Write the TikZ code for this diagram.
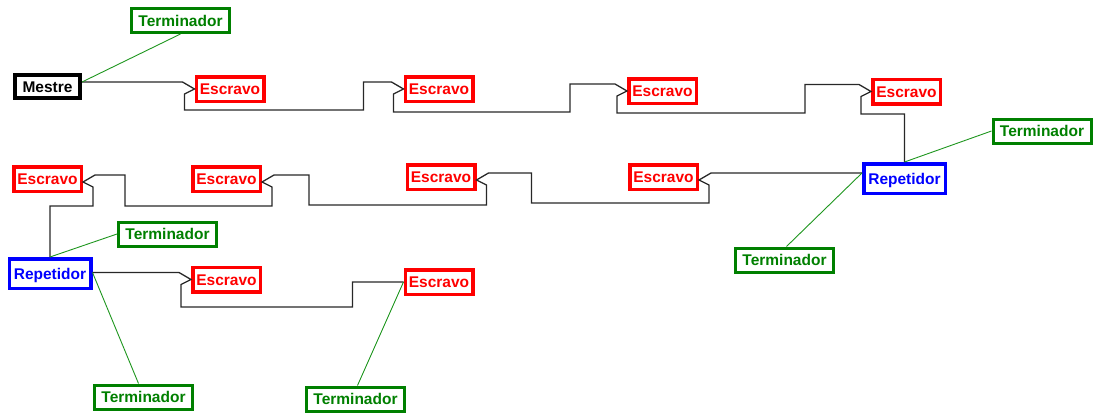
\documentclass[tikz,border=0pt]{standalone}
\usepackage{fontspec}
\setmainfont{Liberation Sans}
\usetikzlibrary{calc}

\definecolor{slavered}{RGB}{255,0,0}
\definecolor{termgreen}{RGB}{0,128,0}
\definecolor{repblue}{RGB}{0,0,255}
\definecolor{busgray}{RGB}{40,40,40}
\definecolor{stubgreen}{RGB}{30,150,30}

\tikzset{
  box/.style={draw, fill=white, inner sep=0pt, text height=11pt, text depth=0pt,
    font=\fontsize{15.5}{16}\selectfont\bfseries},
  master/.style={box, line width=4pt, draw=black, text=black,
    minimum width=65pt, minimum height=23pt},
  slave/.style={box, line width=3.5pt, draw=slavered, text=slavered,
    minimum width=67.5pt, minimum height=24.5pt},
  repeater/.style={box, line width=3.5pt, draw=repblue, text=repblue,
    minimum width=81.5pt, minimum height=29.5pt},
  terminator/.style={box, line width=3pt, draw=termgreen, text=termgreen,
    minimum width=98pt, minimum height=24pt},
  bus/.style={draw=busgray, line width=1.3pt, line join=miter},
  stub/.style={draw=stubgreen, line width=0.9pt},
}

\begin{document}
\begin{tikzpicture}[x=1pt, y=-1pt]
\useasboundingbox (0,0) rectangle (1093,415);

% ---- stations ----
\node[terminator] (T1) at (180.5,20.5) {Terminador};
\node[master]     (M)  at (47.5,86.5)  {Mestre};
\node[slave]      (E1) at (230,89)     {Escravo};
\node[slave]      (E2) at (439,89)     {Escravo};
\node[slave]      (E3) at (662.5,91)   {Escravo};
\node[slave]      (E4) at (906.5,91.5) {Escravo};
\node[repeater]   (R1) at (904.5,178.5){Repetidor};
\node[terminator] (T2) at (1042,131)   {Terminador};
\node[terminator] (T3) at (784.5,260)  {Terminador};
\node[slave]      (E5) at (663.5,177)  {Escravo};
\node[slave]      (E6) at (441,177)    {Escravo};
\node[slave]      (E7) at (226.5,179)  {Escravo};
\node[slave]      (E8) at (47.5,179)   {Escravo};
\node[terminator] (T4) at (167.5,234)  {Terminador};
\node[repeater]   (R2) at (50,273.5)   {Repetidor};
\node[slave]      (E9) at (226.5,279.5){Escravo};
\node[slave]      (E10) at (439,282)   {Escravo};
\node[terminator] (T5) at (355.5,399)  {Terminador};
\node[terminator] (T6) at (143.5,397)  {Terminador};

% ---- plug notches: left side for the first segment and the last one ----
\foreach \n in {E1,E2,E3,E4,E9}{
  \coordinate (\n tip) at (\n.west);
  \coordinate (\n in)  at ($(\n tip)+(-12,-7)$);
  \coordinate (\n out) at ($(\n tip)+(-10,5)$);
}
% ---- plug notches: right side for the middle segment ----
\foreach \n in {E5,E6,E7,E8}{
  \coordinate (\n tip) at ($(\n.east)+(0,3)$);
  \coordinate (\n in)  at ($(\n tip)+(12,-7)$);
  \coordinate (\n out) at ($(\n tip)+(10,5)$);
}
\coordinate (Mout)  at (M.east |- E1in);
\coordinate (R1out) at (R1.west |- E5in);
\coordinate (R2out) at (R2.east |- E9in);

% ---- first segment ----
\draw[bus] (Mout) -- (E1in) -- (E1tip) -- (E1out)
  -- ++(0,16) -| ($(E2in)+(-28,0)$) -- (E2in) -- (E2tip) -- (E2out)
  -- ++(0,18) -| ($(E3in)+(-45,0)$) -- (E3in) -- (E3tip) -- (E3out)
  -- ++(0,17) -| ($(E4in)+(-54,0)$) -- (E4in) -- (E4tip) -- (E4out)
  -- ++(0,17.5) -| (R1.north);

% ---- second segment ----
\draw[bus] (R1out) -- (E5in) -- (E5tip) -- (E5out)
  -- ++(0,18) -| ($(E6in)+(43,0)$) -- (E6in) -- (E6tip) -- (E6out)
  -- ++(0,20) -| ($(E7in)+(35,0)$) -- (E7in) -- (E7tip) -- (E7out)
  -- ++(0,19) -| ($(E8in)+(30,0)$) -- (E8in) -- (E8tip) -- (E8out)
  -- ++(0,19) -| (R2.north);

% ---- third segment ----
\draw[bus] (R2out) -- (E9in) -- (E9tip) -- (E9out)
  -- ++(0,22.5) -| ($(E10.west)+(-51,0)$) -- (E10.west);

% ---- terminators ----
\draw[stub] (Mout) -- (T1.south);
\draw[stub] (R1.north) -- (T2.west);
\draw[stub] (R1out) -- ($(T3.north)+(2,0)$);
\draw[stub] (R2.north) -- (T4.west);
\draw[stub] (R2out) -- ($(T6.north)+(-5,0)$);
\draw[stub] (E10.west) -- ($(T5.north)+(2,0)$);
\end{tikzpicture}
\end{document}
